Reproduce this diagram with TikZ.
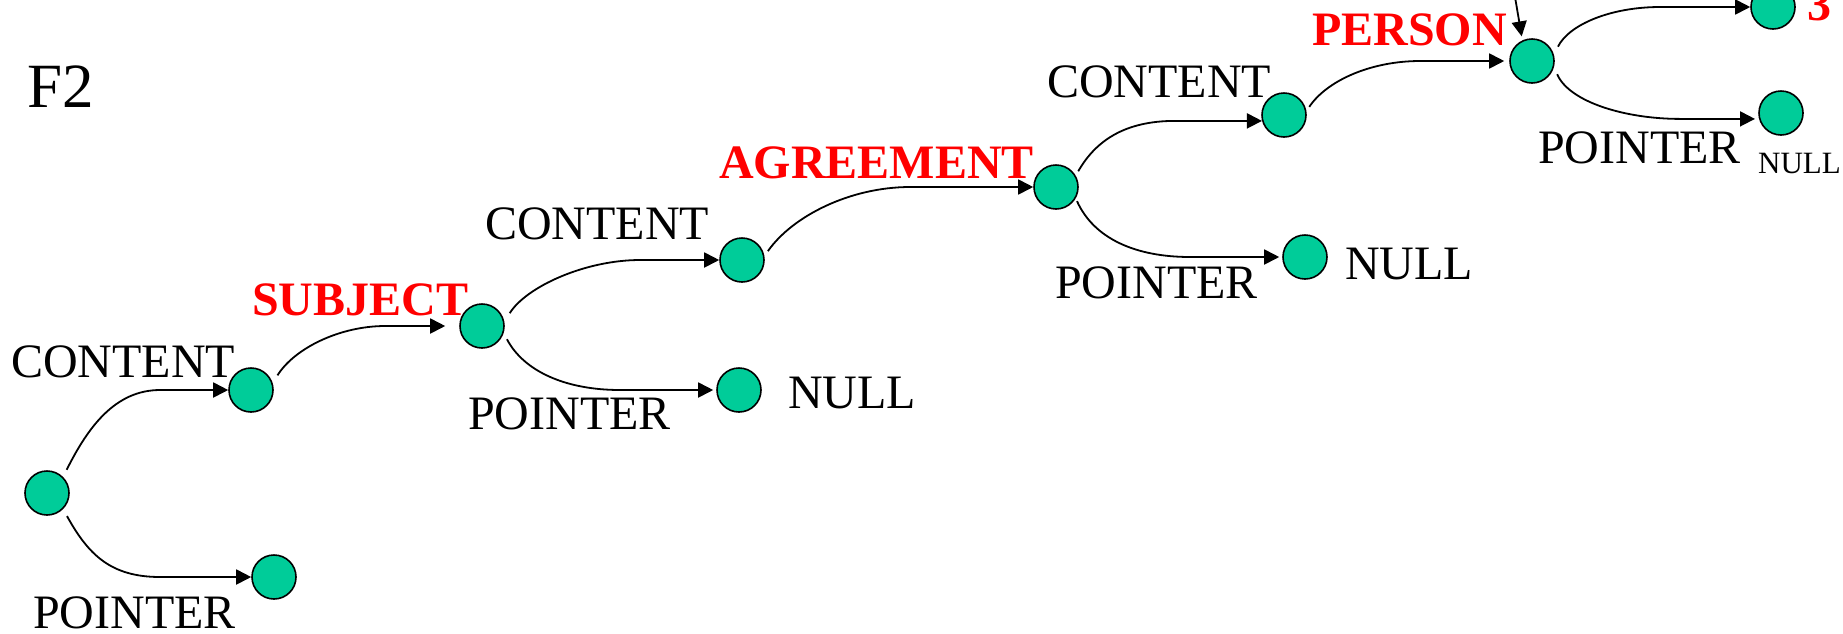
\documentclass[tikz,border=0pt]{standalone}
\usepackage{fontspec}
\setmainfont{Liberation Serif}
\usetikzlibrary{arrows.meta,calc}
\definecolor{nodegreen}{HTML}{00CC99}
\begin{document}
\begin{tikzpicture}[x=1pt,y=-1pt,
  dot/.style={circle,draw=black,line width=1.6pt,fill=nodegreen,minimum size=44pt,inner sep=0pt},
  lbl/.style={anchor=base west,inner sep=0pt,font=\fontsize{48pt}{58pt}\selectfont},
  key/.style={anchor=base west,inner sep=0pt,text=red,font=\fontsize{48pt}{58pt}\selectfont\bfseries},
  conn/.style={line width=1.8pt,-{Triangle[length=15pt,width=15pt]}},
]
\useasboundingbox[fill=white] (0,0) rectangle (1843,633);

% nodes
\node[dot] (r)  at (47,493) {};
\node[dot] (c1) at (251,390) {};
\node[dot] (p1) at (274,577) {};
\node[dot] (s)  at (482,326) {};
\node[dot] (c2) at (742,260) {};
\node[dot] (n1) at (739,390) {};
\node[dot] (a)  at (1056,187) {};
\node[dot] (c3) at (1284,115) {};
\node[dot] (n2) at (1305,257) {};
\node[dot] (pe) at (1532,61) {};
\node[dot] (t)  at (1773,7) {};
\node[dot] (n3) at (1781,113) {};
\coordinate (topin) at (1515,-3);

% labels
\node[anchor=base west,inner sep=0pt,font=\fontsize{63pt}{75pt}\selectfont] (tF2) at (27,107) {F2};
\node[lbl] (tC1) at (11,377) {CONTENT};
\node[lbl] (tP1) at (33,628) {POINTER};
\node[key] (tS)  at (252,315) {SUBJECT};
\node[lbl] (tC2) at (485,239) {CONTENT};
\node[lbl] (tP2) at (468,429) {POINTER};
\node[lbl] (tN1) at (788,408) {NULL};
\node[key] (tA)  at (719,178) {AGREEMENT};
\node[lbl] (tC3) at (1047,97) {CONTENT};
\node[lbl] (tP3) at (1055,298) {POINTER};
\node[lbl] (tN2) at (1345,279) {NULL};
\node[key] (tPe) at (1312,45) {PERSON};
\node[key] (t3)  at (1807,20) {3};
\node[lbl] (tP4) at (1538,163) {POINTER};
\node[anchor=base west,inner sep=0pt,font=\fontsize{31pt}{37pt}\selectfont] (tN3) at (1758,173) {NULL};

% connectors
\draw[conn,shorten <=8pt] (r.45) .. controls +(25,-50) and +(-45,0) .. ([xshift=-68pt]c1.west) -- (c1.west);
\draw[conn,shorten <=8pt] (r.-45) .. controls +(25,45) and +(-50,0) .. ([xshift=-91pt]p1.west) -- (p1.west);
\draw[conn,shorten <=9pt,shorten >=14pt] (c1.18) .. controls +(22,-35) and +(-45,0) .. ([xshift=-74pt]s.west) -- (s.west);
\draw[conn,shorten <=10pt] (s.11) .. controls +(22,-35) and +(-55,0) .. ([xshift=-79pt]c2.west) -- (c2.west);
\draw[conn,shorten <=7pt,shorten >=3pt] (s.-18) .. controls +(20,38) and +(-55,0) .. ([xshift=-96pt]n1.west) -- (n1.west);
\draw[conn,shorten <=6pt] (c2.10) .. controls +(28,-40) and +(-60,0) .. ([xshift=-123pt]a.west) -- (a.west);
\draw[conn,shorten <=5pt] (a.30) .. controls +(20,-35) and +(-50,0) .. ([xshift=-87pt]c3.195) -- (c3.195);
\draw[conn,shorten <=3pt,shorten >=3pt] (a.-30) .. controls +(18,40) and +(-55,0) .. ([xshift=-92pt]n2.west) -- (n2.west);
\draw[conn,shorten <=5pt,shorten >=5pt] (c3.10) .. controls +(20,-30) and +(-50,0) .. ([xshift=-89pt]pe.west) -- (pe.west);
\draw[conn,shorten <=9pt] (pe.16) .. controls +(15,-30) and +(-50,0) .. ([xshift=-90pt]t.west) -- (t.west);
\draw[conn,shorten <=8pt,shorten >=4pt] (pe.-15) .. controls +(15,35) and +(-55,0) .. ([xshift=-79pt]n3.195) -- (n3.195);
\draw[conn,shorten >=4pt] (topin) -- (pe.115);
\end{tikzpicture}
\end{document}
